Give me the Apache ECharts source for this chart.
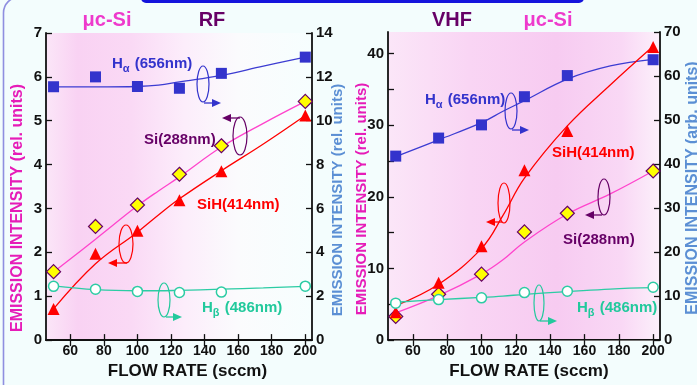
<!DOCTYPE html>
<html>
<head>
<meta charset="utf-8">
<script src="https://cdn.jsdelivr.net/npm/echarts@6/dist/echarts.min.js"></script>
<style>
  html, body { margin: 0; padding: 0; background: #f3fdfd; }
  #chart { width: 697px; height: 385px; }
</style>
</head>
<body>
<div id="chart"></div>
<script>
// flow rates where the lines were measured
const flow = [50, 75, 100, 125, 150, 200];
// x positions used to trace the guide curves
const fitFlow = [50, 75, 100, 112.5, 125, 150, 175, 200];
const xTicks = [60, 80, 100, 120, 140, 160, 180, 200];

// RF panel (Ha, Hb on right axis)
const rfHalpha = [11.55, 12.0, 11.56, 11.48, 12.16, 12.9];
const rfSi288 = [1.56, 2.59, 3.08, 3.78, 4.43, 5.44];
const rfSiH414 = [0.71, 1.97, 2.49, 3.19, 3.85, 5.12];
const rfHbeta = [2.45, 2.32, 2.22, 2.17, 2.19, 2.46];
const rfHalphaFit = [11.54, 11.54, 11.56, 11.62, 11.77, 12.07, 12.49, 12.9];
const rfSi288Fit = [1.55, 2.3, 3.06, 3.4, 3.72, 4.4, 4.94, 5.44];
const rfSiH414Fit = [0.71, 1.74, 2.46, 2.85, 3.22, 3.86, 4.47, 5.12];
const rfHbetaFit = [2.47, 2.3, 2.25, 2.25, 2.27, 2.32, 2.38, 2.45];

// VHF panel (Ha, Hb on right axis)
const vhfHalpha = [41.8, 45.9, 48.9, 55.3, 60.1, 63.7];
const vhfSi288 = [3.3, 6.4, 9.2, 15.1, 17.7, 23.6];
const vhfSiH414 = [3.9, 8.0, 13.1, 23.7, 29.2, 40.9];
const vhfHbeta = [8.4, 9.2, 9.6, 10.8, 11.1, 12.0];
const vhfHalphaFit = [41.7, 45.5, 49.4, 52.0, 54.4, 59.3, 62.3, 63.8];
const vhfSi288Fit = [3.8, 6.2, 9.2, 11.2, 13.7, 17.6, 20.4, 23.6];
const vhfSiH414Fit = [4.8, 7.8, 12.8, 17.4, 22.6, 29.9, 35.6, 41.0];
const vhfHbetaFit = [8.6, 9.2, 9.7, 10.0, 10.4, 11.0, 11.6, 11.9];

const FONT = 'Liberation Sans, Arial, sans-serif';
const C = {
  ha: '#3333cc', si: '#ff44cc', siTxt: '#660066', sih: '#ff0000',
  hb: '#22c99c', mag: '#e61cb8', axBlue: '#5b8fd4'
};

function pairs(xs, ys) {
  return xs.map(function (x, i) { return [x, ys[i]]; });
}

function fit(xi, yi, ys, color) {
  return {
    type: 'line', xAxisIndex: xi, yAxisIndex: yi, data: pairs(fitFlow, ys),
    smooth: 0.4, showSymbol: false, symbol: 'none',
    lineStyle: { color: color, width: 1.3 }, z: 3, silent: true
  };
}

function marks(xi, yi, ys, symbol, size, fill, border, bw) {
  return {
    type: 'scatter', xAxisIndex: xi, yAxisIndex: yi, data: pairs(flow, ys),
    symbol: symbol, symbolSize: size,
    itemStyle: { color: fill, borderColor: border, borderWidth: bw, opacity: 1 },
    z: 5, silent: true
  };
}

function xAxis(grid, top) {
  return {
    type: 'value', gridIndex: grid, position: top ? 'top' : 'bottom',
    min: 45.5, max: 204,
    axisLine: { lineStyle: { color: top && grid === 1 ? '#777' : '#111', width: top ? 1.2 : 1.8 } },
    axisTick: { inside: true, length: 6, customValues: xTicks, lineStyle: { color: '#111', width: 1.3 } },
    axisLabel: top ? { show: false } : {
      customValues: xTicks, margin: 4,
      fontFamily: FONT, fontWeight: 'bold', fontSize: 14, color: '#111'
    },
    splitLine: { show: false },
    name: top ? '' : 'FLOW RATE (sccm)', nameLocation: 'middle', nameGap: 17,
    nameTextStyle: { fontFamily: FONT, fontWeight: 'bold', fontSize: 17, color: '#111',
      padding: [0, 0, 0, grid === 0 ? 17 : 10] }
  };
}

function yAxis(grid, right, max, tickVals, labelVals) {
  return {
    type: 'value', gridIndex: grid, position: right ? 'right' : 'left',
    min: 0, max: max,
    axisLine: { show: true, lineStyle: { color: '#111', width: 1.8 } },
    axisTick: { show: true, inside: true, length: 6, customValues: tickVals, lineStyle: { color: '#111', width: 1.3 } },
    axisLabel: { customValues: labelVals, margin: 4,
      fontFamily: FONT, fontWeight: 'bold', fontSize: 15, color: '#111' },
    splitLine: { show: false }
  };
}

function steps(to, by) {
  const out = [];
  for (let v = 0; v <= to; v += by) out.push(v);
  return out;
}

function bg(stops) {
  return new echarts.graphic.LinearGradient(0, 0, 1, 0,
    stops.map(function (s) { return { offset: s[0], color: s[1] }; }));
}

function txt(x, y, text, color, size, align, rot) {
  return {
    type: 'text', x: x, y: y, rotation: rot || 0, z: 20,
    style: { text: text, fill: color, font: 'bold ' + size + 'px ' + FONT,
      textAlign: align || 'center', textVerticalAlign: 'middle' }
  };
}

// species label with optional greek subscript
function tag(x, y, main, sub, rest, color) {
  const rich = {
    m: { fontFamily: FONT, fontWeight: 'bold', fontSize: 15, fill: color },
    s: { fontFamily: FONT, fontWeight: 'bold', fontSize: 11, fill: color, padding: [9, 1, 0, 0] }
  };
  const t = sub ? '{m|' + main + '}{s|' + sub + '}{m|' + rest + '}' : '{m|' + main + '}';
  return { type: 'text', x: x, y: y, z: 20,
    style: { text: t, rich: rich, textAlign: 'left', textVerticalAlign: 'middle' } };
}

function loop(cx, cy, rx, ry, color) {
  return { type: 'ellipse', z: 19, shape: { cx: cx, cy: cy, rx: rx, ry: ry },
    style: { fill: null, stroke: color, lineWidth: 1.2 } };
}

function arrow(x1, y, x2, color) {
  const d = x2 > x1 ? 1 : -1;
  return [
    { type: 'line', z: 19, shape: { x1: x1, y1: y, x2: x2 - d * 6, y2: y }, style: { stroke: color, lineWidth: 1.3 } },
    { type: 'polygon', z: 19, shape: { points: [[x2, y], [x2 - d * 9, y - 4], [x2 - d * 9, y + 4]] }, style: { fill: color } }
  ];
}

const chart = echarts.init(document.getElementById('chart'), null, { renderer: 'canvas' });

const graphic = [
  { type: 'rect', z: 0, shape: { x: 3.5, y: -3, width: 900, height: 500, r: 16 },
    style: { fill: null, stroke: '#8f8fe0', lineWidth: 1.6 } },
  { type: 'rect', z: 1, shape: { x: 141, y: -10, width: 443, height: 13, r: 5 },
    style: { fill: '#1414dc' } },
  txt(107, 20, 'μc-Si', '#ee3acc', 20),
  txt(212, 20, 'RF', C.siTxt, 20),
  txt(452, 20, 'VHF', C.siTxt, 20),
  txt(548, 20, 'μc-Si', '#ee3acc', 20),
  txt(17.5, 208, 'EMISSION INTENSITY (rel. units)', C.mag, 16, 'center', Math.PI / 2),
  txt(338, 200, 'EMISSION INTENSITY (rel. units)', C.axBlue, 15, 'center', Math.PI / 2),
  txt(362, 199, 'EMISSION INTENSITY (rel. units)', C.mag, 15, 'center', Math.PI / 2),
  txt(693, 188, 'EMISSION INTENSITY (arb. units)', C.axBlue, 16, 'center', Math.PI / 2),
  tag(112, 64, 'H', 'α', ' (656nm)', C.ha),
  tag(144, 140, 'Si(288nm)', null, null, C.siTxt),
  tag(197, 205, 'SiH(414nm)', null, null, C.sih),
  tag(202, 308, 'H', 'β', ' (486nm)', C.hb),
  tag(425, 100, 'H', 'α', ' (656nm)', C.ha),
  tag(552, 153, 'SiH(414nm)', null, null, C.sih),
  tag(563, 240, 'Si(288nm)', null, null, C.siTxt),
  tag(577, 308, 'H', 'β', ' (486nm)', C.hb),
  loop(203, 84, 6, 18, C.ha),
  loop(240, 136, 7, 19, C.siTxt),
  loop(126, 244, 7, 19, C.sih),
  loop(164, 300, 6, 17, C.hb),
  loop(511, 111, 6, 18, C.ha),
  loop(504, 203, 6, 20, C.sih),
  loop(604, 197, 6, 18, C.siTxt),
  loop(539, 303, 5, 18, C.hb)
].concat(
  arrow(204, 103, 221, C.ha), arrow(240, 118, 222, C.siTxt),
  arrow(127, 263, 108, C.sih), arrow(166, 317, 182, C.hb),
  arrow(512, 130, 529, C.ha), arrow(502, 222, 486, C.sih),
  arrow(602, 215, 585, C.siTxt), arrow(540, 321, 557, C.hb)
);

const option = {
  animation: false,
  backgroundColor: '#f3fdfd',
  grid: [
    { left: 46, top: 33, width: 266, height: 312, show: true, borderWidth: 0,
      backgroundColor: bg([[0, '#fbe6f8'], [0.12, '#f9d2f3'], [0.32, '#fad9f5'], [0.52, '#fcedfb'], [0.72, '#fbfbfd'], [1, '#f6fefe']]) },
    { left: 388, top: 32, width: 272, height: 313, show: true, borderWidth: 0,
      backgroundColor: bg([[0, '#fbe6f8'], [0.3, '#f9d5f4'], [0.62, '#f7cbf1'], [0.86, '#f9d8f5'], [1, '#fcf0fb']]) }
  ],
  xAxis: [xAxis(0, false), xAxis(0, true), xAxis(1, false), xAxis(1, true)],
  yAxis: [
    yAxis(0, false, 7, steps(7, 1), steps(7, 1)),
    yAxis(0, true, 14, steps(14, 2), steps(14, 2)),
    yAxis(1, false, 43, steps(40, 5), steps(40, 10)),
    yAxis(1, true, 70, steps(70, 10), steps(70, 10))
  ],
  series: [
    fit(0, 1, rfHalphaFit, '#3c3cd2'),
    fit(0, 0, rfSi288Fit, C.si),
    fit(0, 0, rfSiH414Fit, C.sih),
    fit(0, 1, rfHbetaFit, '#2ccca4'),
    marks(0, 1, rfHalpha, 'rect', 11, C.ha, C.ha, 0),
    marks(0, 0, rfSi288, 'diamond', 14, '#ffff00', '#660066', 1.2),
    marks(0, 0, rfSiH414, 'triangle', 12, '#ff0000', '#ff0000', 0),
    marks(0, 1, rfHbeta, 'circle', 10, '#ffffff', '#2ccca4', 1.5),
    fit(2, 3, vhfHalphaFit, '#3c3cd2'),
    fit(2, 2, vhfSi288Fit, C.si),
    fit(2, 2, vhfSiH414Fit, C.sih),
    fit(2, 3, vhfHbetaFit, '#2ccca4'),
    marks(2, 3, vhfHalpha, 'rect', 11, C.ha, C.ha, 0),
    marks(2, 2, vhfSi288, 'diamond', 14, '#ffff00', '#660066', 1.2),
    marks(2, 2, vhfSiH414, 'triangle', 12, '#ff0000', '#ff0000', 0),
    marks(2, 3, vhfHbeta, 'circle', 10, '#ffffff', '#2ccca4', 1.5)
  ],
  graphic: graphic
};

chart.setOption(option);
</script>
</body>
</html>
